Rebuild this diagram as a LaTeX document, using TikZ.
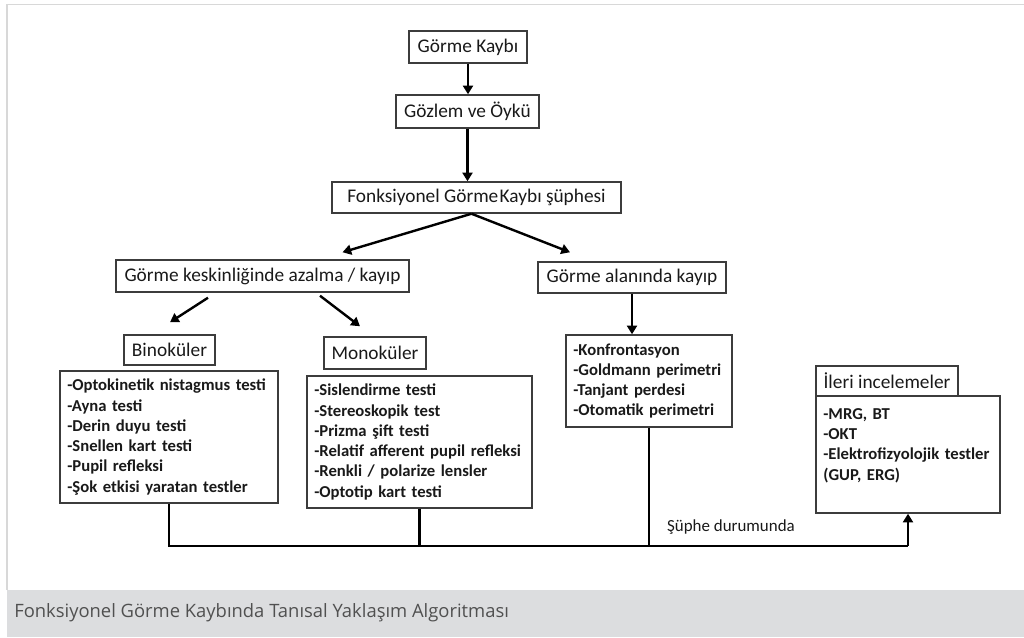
\documentclass[tikz,border=0pt]{standalone}
\usepackage{fontspec}
\setmainfont{Carlito}
\newfontfamily\capfont{Open Sans}
\usetikzlibrary{arrows.meta,calc}
\definecolor{boxline}{HTML}{3C3C3C}
\definecolor{framegray}{HTML}{D8D8D8}
\definecolor{capbg}{HTML}{DCDDDF}
\definecolor{captext}{HTML}{505050}
\begin{document}
\begin{tikzpicture}[x=0.75pt,y=-0.75pt,
  hbox/.style={draw=boxline, line width=1.1pt, inner sep=0pt, text=black!90,
    font=\fontsize{14.5}{17}\selectfont},
  lbox/.style={draw=boxline, line width=1.1pt, inner xsep=5.5pt, inner ysep=0pt,
    align=left, text=black!90, font=\bfseries\fontsize{12.5}{15.2}\selectfont},
  arr/.style={line width=1.8pt, -{Triangle[length=6.5pt,width=7.5pt]}},
  conn/.style={line width=1.8pt},
]
\useasboundingbox (0,0) rectangle (1024,638);
% frame and caption bar
\draw[framegray, line width=1.2pt] (7,590) -- (7,4.5) -- (1024,4.5);
\fill[capbg] (7,590) rectangle (1024,637);
\node[anchor=base west, inner sep=0pt, text=captext, font=\capfont\fontsize{13.8}{16}\selectfont]
  (cap) at (14,617) {Fonksiyonel Görme Kaybında Tanısal Yaklaşım Algoritması};

% header boxes
\node[hbox, minimum width=88.5pt, minimum height=24pt] (k1) at (468,47) {Görme Kaybı};
\node[hbox, minimum width=107.25pt, minimum height=24.75pt] (k2) at (467.5,111.5) {Gözlem ve Öykü};
\node[hbox, minimum width=216.75pt, minimum height=23.25pt] (k3) at (476.5,197.5) {Fonksiyonel Görme\hspace{1pt}Kaybı şüphesi};
\node[hbox, minimum width=219.75pt, minimum height=24pt] (k4) at (262.5,276) {Görme keskinliğinde azalma / kayıp};
\node[hbox, minimum width=141pt, minimum height=23.25pt] (k5) at (632,277.5) {Görme alanında kayıp};
\node[hbox, minimum width=68.25pt, minimum height=22.5pt] (bin) at (169.5,350) {Binoküler};
\node[hbox, minimum width=76.5pt, minimum height=24pt] (mon) at (375,353) {Monoküler};
\node[hbox, minimum width=106.5pt, minimum height=22.5pt] (ih) at (887,381) {İleri incelemeler};

% list boxes
\node[lbox, text width=152.5pt, minimum height=99pt] (binlist) at (169,437)
  {-Optokinetik nistagmus testi\\-Ayna testi\\-Derin duyu testi\\-Snellen kart testi\\-Pupil refleksi\\-Şok etkisi yaratan testler};
\node[lbox, text width=157.75pt, minimum height=99pt] (monlist) at (419.5,442)
  {-Sislendirme testi\\-Stereoskopik test\\-Prizma şift testi\\-Relatif afferent pupil refleksi\\-Renkli / polarize lensler\\-Optotip kart testi};
\node[lbox, text width=113.5pt, minimum height=69pt] (konf) at (649,381)
  {-Konfrontasyon\\-Goldmann perimetri\\-Tanjant perdesi\\-Otomatik perimetri};
\node[lbox, text width=127pt, minimum height=87.75pt] (ileri) at (908,454.5)
  {-MRG, BT\\-OKT\\-Elektrofizyolojik testler\\(GUP, ERG)\\\mbox{}};

\node[inner sep=0pt, text=black!90, font=\fontsize{12.7}{15}\selectfont] (lbl) at (731,527) {Şüphe durumunda};

% arrows
\draw[arr] (k1.south) -- (k1.south |- k2.north);
\draw[arr] (k2.south) -- (k2.south |- k3.north);
\draw[arr] ($(k3.south)+(-5,0)$) -- ($(k4.north)+(80,-7)$);
\draw[arr] ($(k3.south)+(-5,0)$) -- ($(k5.north)+(-62,-9)$);
\draw[arr] ($(k4.south)+(-54.5,5)$) -- ($(bin.north)+(0.5,-12)$);
\draw[arr] ($(k4.south)+(57.5,3)$) -- ($(mon.north)+(-15,-10)$);
\draw[arr] (k5.south) -- (k5.south |- konf.north);

% bottom connectors
\draw[conn] (binlist.south) -- ++(0,42) coordinate (bl) -- (bl -| ileri.south) coordinate (br);
\draw[conn] (monlist.south) -- (monlist.south |- bl);
\draw[conn] (konf.south) -- (konf.south |- bl);
\draw[arr] (br) -- (ileri.south);
\end{tikzpicture}
\end{document}
